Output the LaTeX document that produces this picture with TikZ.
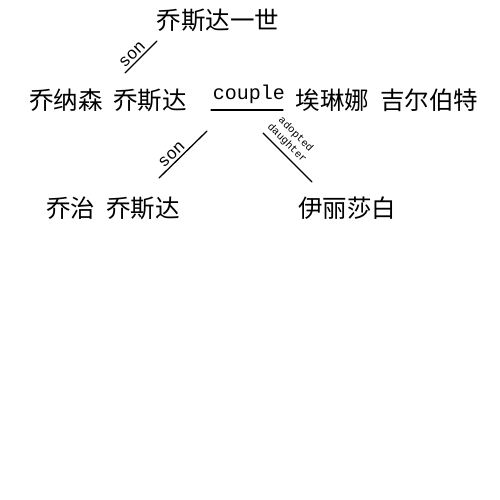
\documentclass[tikz,border=0pt]{standalone}
\usepackage{fontspec}
\setmainfont{Noto Sans CJK SC}
\newfontfamily\latinmono{Liberation Mono}
\newcommand{\wsp}{\hspace{11pt}}
\begin{document}
\begin{tikzpicture}[x=1pt,y=-1pt,
  person/.style={inner sep=0pt, font=\fontsize{24.5}{26}\selectfont},
  rel/.style={line width=1.3pt, line cap=round},
  lbl/.style={inner sep=2.5pt, font=\latinmono\fontsize{17}{18}\selectfont},
  small/.style={inner sep=4pt, align=center, font=\latinmono\fontsize{10.5}{12.5}\selectfont}]
\useasboundingbox[fill=white] (0,0) rectangle (500,500);
\node[person] (gp) at (218,20) {乔斯达一世};
\node[person] (jon) at (108,100) {乔纳森\wsp 乔斯达};
\node[person] (eri) at (387,100) {埃琳娜\wsp 吉尔伯特};
\node[person] (geo) at (113,208) {乔治\wsp 乔斯达};
\node[person] (eli) at (347,208) {伊丽莎白};
\node[inner sep=0pt, font=\latinmono\fontsize{20}{21}\selectfont] (cp) at (249,94) {couple};
\coordinate (s1a) at (125,73);
\coordinate (s1b) at (157,41);
\coordinate (cpa) at (211,110);
\coordinate (cpb) at (283,110);
\coordinate (s2a) at (159,178);
\coordinate (s2b) at (207,131);
\coordinate (ada) at (263,133);
\coordinate (adb) at (312,182);
\draw[rel] (s1a) -- node[lbl, sloped, above, pos=0.4] {son} (s1b);
\draw[rel] (cpa) -- (cpb);
\draw[rel] (s2a) -- node[lbl, sloped, above, pos=0.38] {son} (s2b);
\draw[rel] (ada) -- node[small, sloped, above, pos=0.35] {adopted\\daughter} (adb);
\end{tikzpicture}
\end{document}
